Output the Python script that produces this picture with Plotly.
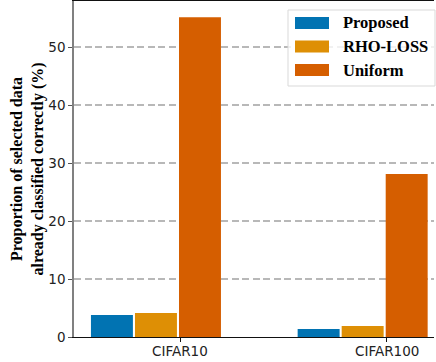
import plotly.graph_objects as go

# ---- data ----
categories = ["CIFAR10", "CIFAR100"]
methods = ["Proposed", "RHO-LOSS", "Uniform"]
proposed = [3.8, 1.4]
rho_loss = [4.15, 1.9]
uniform = [55.2, 28.15]
y_ticks = [0, 10, 20, 30, 40, 50]

series = [proposed, rho_loss, uniform]
colors = ["#0173b2", "#de8f05", "#d55e00"]

# ---- geometry ----
W, H = 436, 362
L, R, T, B = 74, 2, 1, 25
PW, PH = W - L - R, H - T - B


def px(x):
    return (x - L) / PW


def py(y):
    return (H - B - y) / PH


x_pos = list(range(len(categories)))
bar_w = 0.203
offsets = [-0.431, -0.218, -0.005]

fig = go.Figure()
for name, vals, col, off in zip(methods, series, colors, offsets):
    fig.add_bar(
        x=x_pos, y=vals, name=name,
        marker=dict(color=col, line=dict(width=0)),
        width=bar_w, offset=off, showlegend=False,
    )

tick_font = dict(family="DejaVu Sans", size=13.5, color="#222222")
serif_bold = dict(family="Liberation Serif", size=16.5, color="#000000", weight="bold")

fig.update_layout(
    width=W, height=H,
    margin=dict(l=L, r=R, t=T, b=B, pad=0),
    paper_bgcolor="white", plot_bgcolor="white",
    barmode="overlay",
    xaxis=dict(
        range=[-0.513, -0.513 + PW / 206.7],
        tickvals=x_pos, ticktext=categories, showticklabels=False,
        showline=True, linecolor="#111111", linewidth=1.3, mirror=True,
        ticks="outside", ticklen=4, tickcolor="#111111", tickwidth=1,
        showgrid=False, zeroline=False,
    ),
    yaxis=dict(
        range=[0, 58], tickvals=y_ticks,
        showline=True, linecolor="#808080", linewidth=1.6,
        ticks="outside", ticklen=4, tickcolor="#555555", tickwidth=1,
        showgrid=True, gridcolor="#b8b8b8", gridwidth=1.5, griddash="7px,3.5px",
        zeroline=False, tickfont=tick_font,
        title=dict(
            text="Proportion of selected data<br>already classified correctly (%)",
            font=dict(family="Liberation Serif", size=16, color="#000000", weight="bold"),
            standoff=1,
        ),
    ),
)

annotations = []
# x tick labels (placed as text to match the reference's tighter spacing)
for xv, cat in zip(x_pos, categories):
    annotations.append(dict(
        xref="x", yref="paper", x=xv, y=py(350.5),
        text=cat, showarrow=False, xanchor="center", yanchor="middle",
        font=tick_font,
    ))

# ---- legend (drawn manually to get wide matplotlib-like swatches) ----
shapes = [dict(
    type="rect", xref="paper", yref="paper",
    x0=px(288), x1=px(435), y0=py(86), y1=py(10),
    fillcolor="rgba(255,255,255,0.8)", line=dict(color="#d9d9d9", width=1),
    layer="above",
)]
rows = [23, 46.5, 70]
for name, col, ry in zip(methods, colors, rows):
    shapes.append(dict(
        type="rect", xref="paper", yref="paper",
        x0=px(295), x1=px(329), y0=py(ry + 6), y1=py(ry - 6),
        fillcolor=col, line=dict(width=0), layer="above",
    ))
    annotations.append(dict(
        xref="paper", yref="paper", x=px(341), y=py(ry),
        text=name, showarrow=False, xanchor="left", yanchor="middle",
        font=serif_bold,
    ))
fig.update_layout(shapes=shapes, annotations=annotations)

fig.write_html("out.html")
